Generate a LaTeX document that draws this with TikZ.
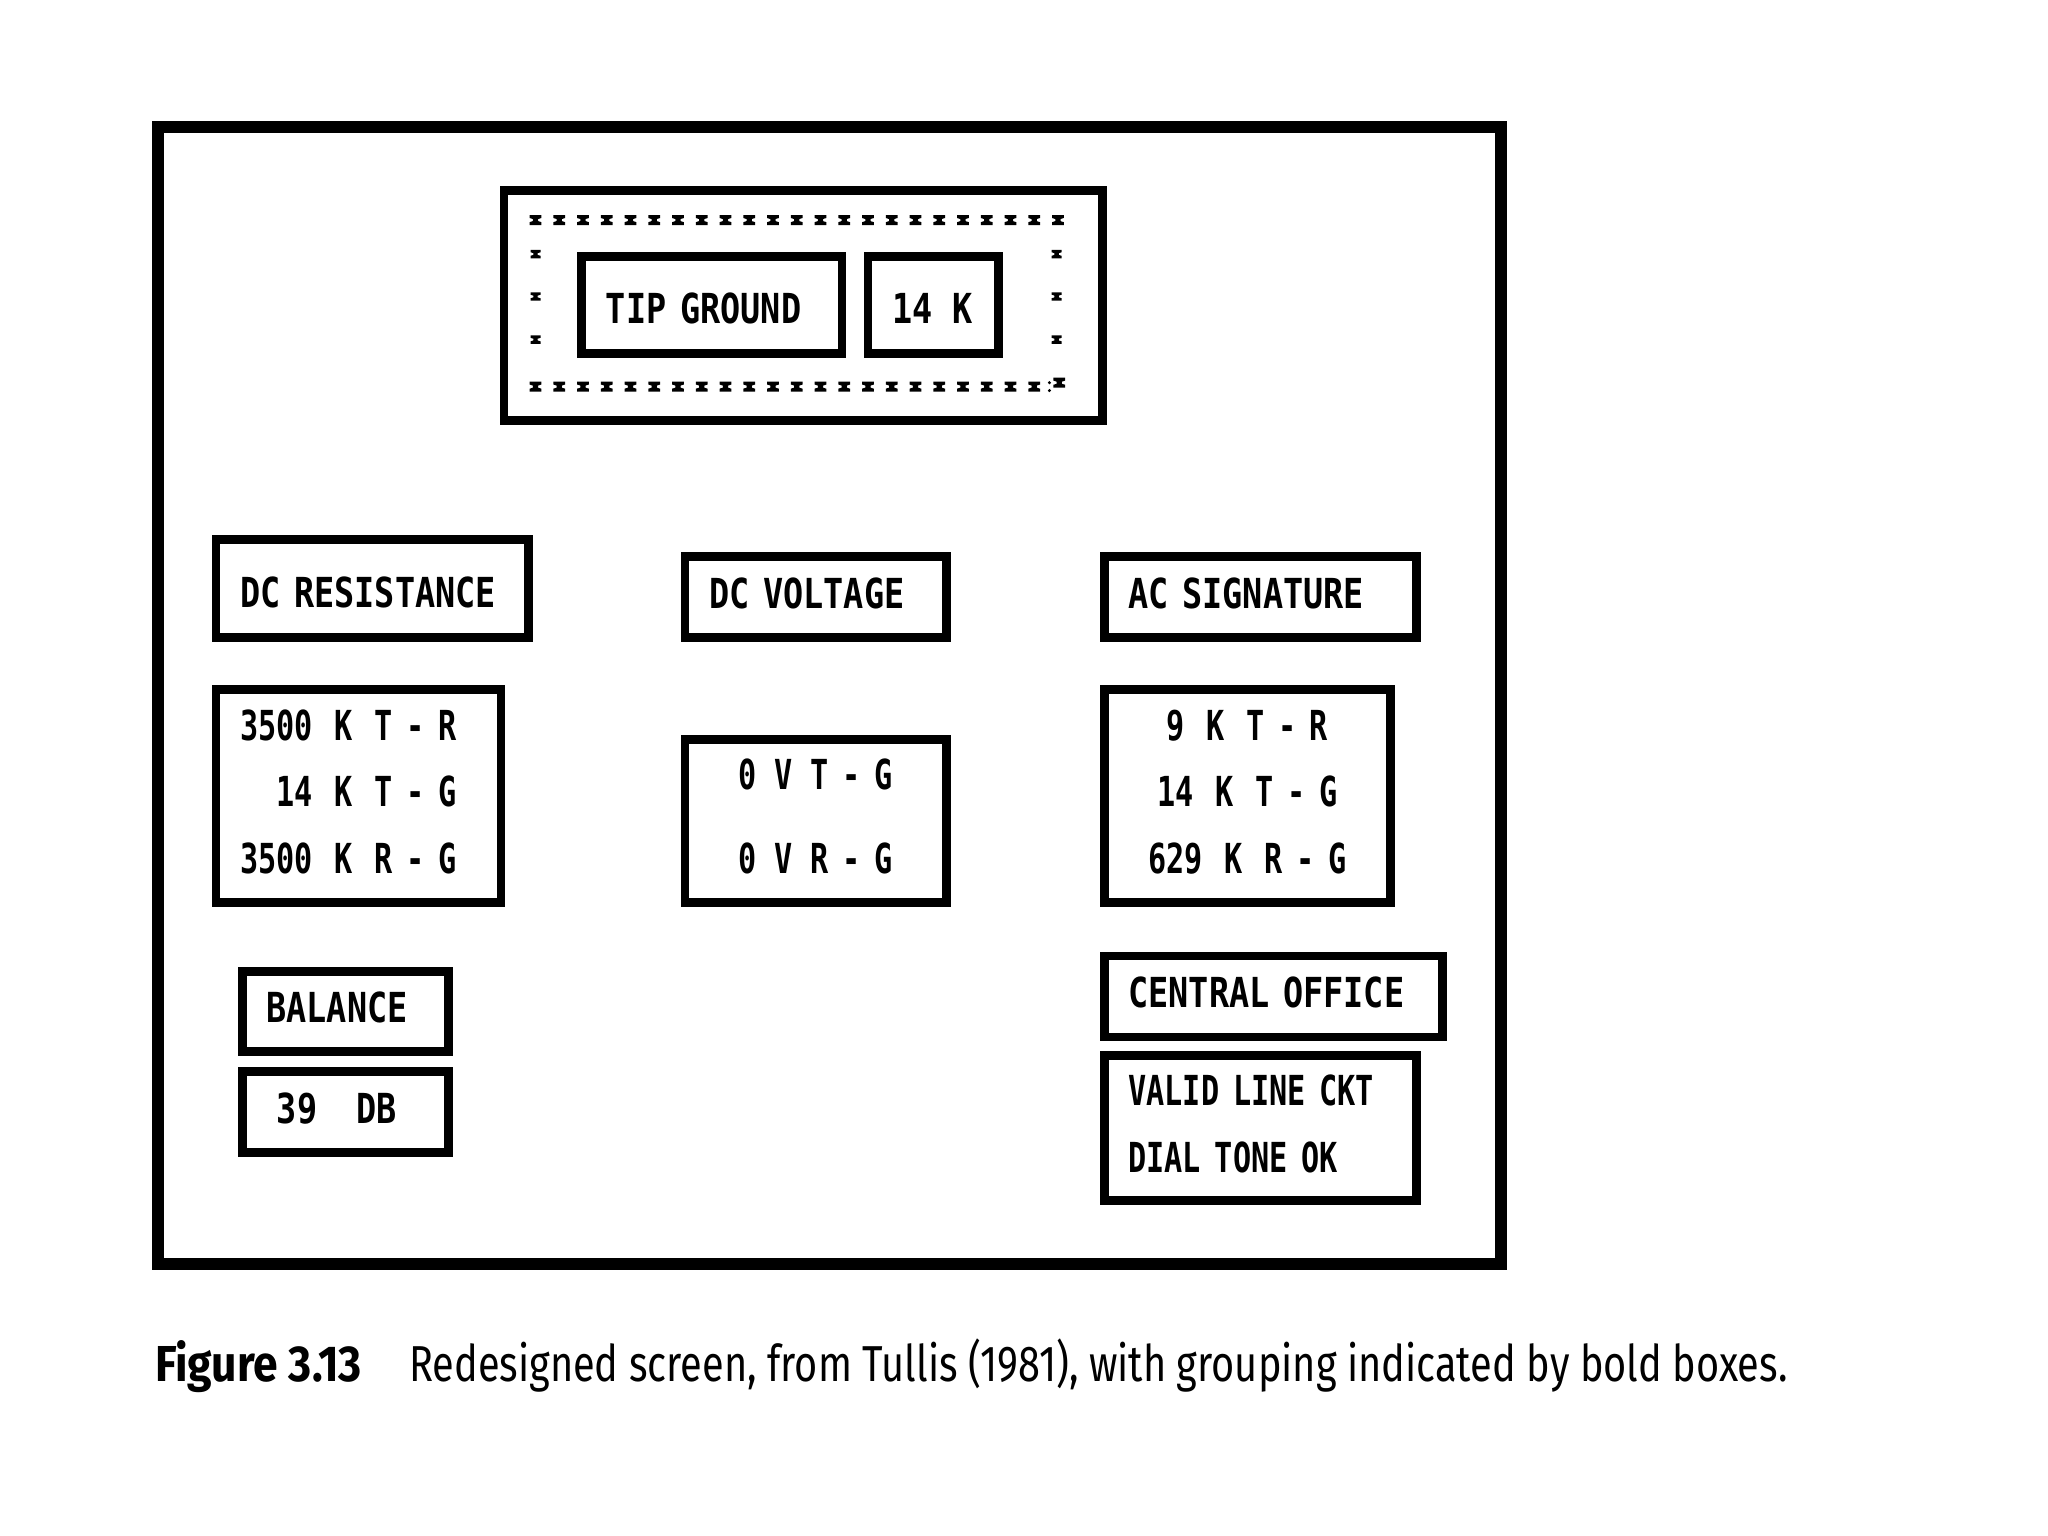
\documentclass[tikz,border=0pt]{standalone}
\usepackage{fontspec}
\newfontfamily\screenfont[FakeStretch=0.81]{DejaVu Sans Mono}
\newfontfamily\valuefont[FakeStretch=0.73]{DejaVu Sans Mono}
\newfontfamily\capfont[FakeStretch=0.786, BoldFeatures={FakeStretch=0.88}]{Fira Sans}
\newcommand{\colgap}{\hspace{0.06cm}}
\begin{document}
\begin{tikzpicture}[x=0.01cm, y=-0.01cm,
    scrbox/.style={draw, line width=1.9pt, inner xsep=0.185cm, inner ysep=0pt, align=left,
        font=\screenfont\bfseries\fontsize{9}{14.5}\selectfont},
    valbox/.style={scrbox, font=\valuefont\bfseries\fontsize{9}{14.5}\selectfont},
    lowtext/.style={text height=0.29cm, text depth=0pt},
    hightext/.style={text height=0.23cm, text depth=0.06cm},
    scrmark/.pic={\fill (-4.5,-3.8)--(4.5,-3.8)--(4.5,-1.6)--(2,-0.8)--(2,0.8)--(4.5,1.6)--(4.5,3.8)--(-4.5,3.8)--(-4.5,1.6)--(-2,0.8)--(-2,-0.8)--(-4.5,-1.6)--cycle;}]
    \useasboundingbox (0,0) rectangle (1568,1176);

    % Screen frame
    \draw[line width=2.6pt] (121,97) rectangle (1149,968);

    % Tip ground group
    \node[draw, line width=1.9pt, minimum width=4.58cm, minimum height=1.76cm] (tipgroup) at (615,234) {};
    \node[scrbox, lowtext, text width=1.62cm, minimum height=0.74cm] (tipgnd) at (545,233.5) {TIP GROUND};
    \node[scrbox, lowtext, text width=0.63cm, minimum height=0.74cm] (tipval) at (714.5,233.5) {14\hspace{0.05cm} K};
    \foreach \i in {0,...,22}
        \pic at (410+\i*18.18,168.5) {scrmark};
    \foreach \i in {0,...,21}
        \pic at (410+\i*18.18,296) {scrmark};
    \foreach \xm in {410,809}
        \foreach \ym in {194.5,227,260}
            \pic[scale=0.85] at (\xm,\ym) {scrmark};
    \pic at (811,293) {scrmark};
    \fill (803.5,293) circle (1.3) (803.5,299) circle (1.3);

    % DC resistance
    \node[scrbox, lowtext, text width=2.02cm, minimum height=0.75cm] (dcres) at (285,450.5) {DC RESISTANCE};
    \node[valbox, text depth=31pt, text width=1.81cm, minimum height=1.63cm] (dcresval) at (274.5,609.5)
        {3500\colgap{} K\colgap{} T - R\\\phantom{35}14\colgap{} K\colgap{} T - G\\3500\colgap{} K\colgap{} R - G};

    % DC voltage
    \node[scrbox, hightext, text width=1.63cm, minimum height=0.62cm] (dcvolt) at (624.5,457) {DC VOLTAGE};
    \node[valbox, align=center, text depth=20.2pt, text width=1.63cm, minimum height=1.25cm] (dcvoltval) at (624.5,628.5)
        {0\hspace{0.03cm} V\hspace{0.03cm} T - G\\[3.7pt]0\hspace{0.03cm} V\hspace{0.03cm} R - G};

    % AC signature
    \node[scrbox, hightext, text width=2.02cm, minimum height=0.62cm] (acsig) at (965,457) {AC SIGNATURE};
    \node[valbox, align=center, text depth=31pt, text width=1.82cm, minimum height=1.63cm] (acsigval) at (955,609.5)
        {9\colgap{} K\colgap{} T - R\\14\colgap{} K\colgap{} T - G\\629\colgap{} K\colgap{} R - G};

    % Balance
    \node[scrbox, hightext, text width=1.21cm, minimum height=0.61cm] (balance) at (264.5,774.5) {BALANCE};
    \node[scrbox, hightext, text width=1.21cm, minimum height=0.62cm] (balval) at (264.5,851.5) {\hspace*{0.08cm}39\ \ \hspace{0.09cm}DB};

    % Central office
    \node[scrbox, hightext, text width=2.22cm, minimum height=0.62cm] (coffice) at (975,763) {CENTRAL OFFICE};
    \node[valbox, text depth=16.2pt, text width=2.02cm, minimum height=1.11cm] (costatus) at (965,863.5)
        {VALID LINE CKT\\DIAL TONE OK};

    % Caption
    \node[anchor=base west, inner sep=0pt, font=\capfont\fontsize{11}{13}\selectfont] (caption) at (118,1058)
        {\textbf{Figure 3.13}\hspace{0.36cm}Redesigned screen, from Tullis (1981), with grouping indicated by bold boxes.};
\end{tikzpicture}
\end{document}
